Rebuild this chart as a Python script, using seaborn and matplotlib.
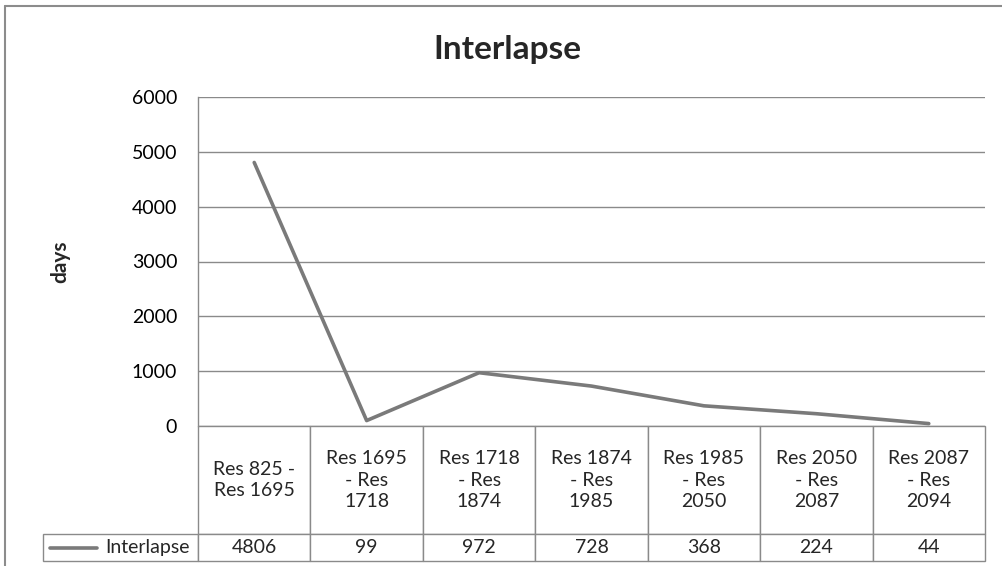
import numpy as np
import pandas as pd
import matplotlib
matplotlib.use('Agg')
import matplotlib.pyplot as plt
from matplotlib.lines import Line2D
import seaborn as sns

# Data
pairs = ['Res 825 - Res 1695', 'Res 1695 - Res 1718', 'Res 1718 - Res 1874',
         'Res 1874 - Res 1985', 'Res 1985 - Res 2050', 'Res 2050 - Res 2087',
         'Res 2087 - Res 2094']
header_labels = ['Res 825 -\nRes 1695', 'Res 1695\n- Res\n1718', 'Res 1718\n- Res\n1874',
                 'Res 1874\n- Res\n1985', 'Res 1985\n- Res\n2050', 'Res 2050\n- Res\n2087',
                 'Res 2087\n- Res\n2094']
interlapse = [4806, 99, 972, 728, 368, 224, 44]
y_ticks = [0, 1000, 2000, 3000, 4000, 5000, 6000]
series_name = 'Interlapse'

sns.set_style('white')
plt.rcParams['font.family'] = ['Lato', 'DejaVu Sans']

W, H = 1003, 566
fig = plt.figure(figsize=(W / 100, H / 100), dpi=100)

# plot area in pixels
px_l, px_r, px_t, px_b = 198, 985, 97, 426
ax = fig.add_axes([px_l / W, 1 - px_b / H, (px_r - px_l) / W, (px_b - px_t) / H])

line_color = '#7a7a7a'
grid_color = '#8a8a8a'

df = pd.DataFrame({'pair': pairs, 'days': interlapse})
sns.lineplot(data=df, x='pair', y='days', sort=False, ax=ax,
             color=line_color, linewidth=2.6)

ax.set_xlim(-0.5, len(pairs) - 0.5)
ax.set_ylim(0, 6000)
ax.set_yticks(y_ticks)
ax.set_xticks([])
ax.set_xlabel('')
ax.set_ylabel('')
ax.tick_params(axis='y', length=0, pad=15, labelsize=14, labelcolor='black')
ax.grid(axis='y', color=grid_color, linewidth=1)
for s in ['top', 'right', 'bottom']:
    ax.spines[s].set_visible(False)
ax.spines['left'].set_color(grid_color)
ax.spines['left'].set_linewidth(1)

# data table below the plot (bbox covers the value grid; series label cell sits to its left)
pw = px_r - px_l
ph = px_b - px_t
tbl_bottom = 561
head_h, row_h = 108, 27
table = ax.table(cellText=[[str(v) for v in interlapse]],
                 colLabels=header_labels,
                 cellLoc='center',
                 bbox=[0, (px_b - tbl_bottom) / ph, 1, (tbl_bottom - px_b) / ph])
table.add_cell(1, -1, width=155 / pw, height=row_h / ph, text=series_name, loc='right')
table.auto_set_font_size(False)
table.set_fontsize(14)
for (r, c), cell in table.get_celld().items():
    cell.set_edgecolor(grid_color)
    cell.set_linewidth(1)
    cell.set_width(155 / pw if c == -1 else 1 / len(pairs))
    cell.set_height((head_h if r == 0 else row_h) / ph)
    cell.get_text().set_linespacing(1.35)
    cell.get_text().set_fontsize(14)
    if c == -1:
        cell.PAD = 0.05

# legend key in the series label cell
ly = (px_b - 548) / ph
ax.add_line(Line2D([(50 - px_l) / pw, (97 - px_l) / pw], [ly, ly],
                   transform=ax.transAxes, color=line_color, linewidth=2.6,
                   clip_on=False))

fig.text(507 / W, 1 - 50 / H, 'Interlapse', ha='center', va='center',
         fontsize=24, fontweight='bold')
fig.text(60 / W, 1 - 262 / H, 'days', ha='center', va='center',
         rotation=90, fontsize=15, fontweight='bold')

# outer chart border
border = '#8c8c8c'
fig.add_artist(Line2D([5 / W, 1], [1 - 6 / H, 1 - 6 / H], color=border, linewidth=1.5))
fig.add_artist(Line2D([5 / W, 5 / W], [1 - 6 / H, 0], color=border, linewidth=1.5))

fig.savefig('out.png', dpi=100)
